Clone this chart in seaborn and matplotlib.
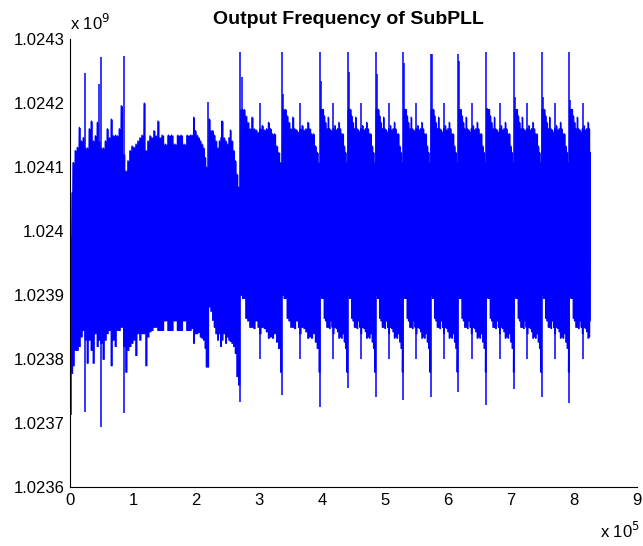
import numpy as np
import pandas as pd
import matplotlib
matplotlib.use("Agg")
import matplotlib.pyplot as plt
import seaborn as sns

# x in units of 1e5 samples, frequency in units of 1e9 Hz

# start-up section (before the flat part)
early_t = [0.008, 0.029, 0.049, 0.081, 0.113, 0.145, 0.176, 0.208, 0.240, 0.272, 0.303, 0.335,
           0.367, 0.399, 0.431, 0.462, 0.489, 0.526, 0.558, 0.589, 0.621, 0.653, 0.685, 0.717,
           0.748, 0.780, 0.812, 0.850, 0.887, 0.918, 0.950, 0.982, 1.014, 1.045, 1.077, 1.109,
           1.141, 1.177, 1.204, 1.236, 1.268, 1.300, 1.331, 1.363, 1.395, 1.427]
early_hi = [1.02399, 1.02406, 1.024107, 1.024126, 1.024131, 1.024162, 1.024141, 1.024146, 1.02413,
            1.02413, 1.02416, 1.024172, 1.024141, 1.024149, 1.02417, 1.02414, 1.02413, 1.02413,
            1.024141, 1.02416, 1.024146, 1.024175, 1.024149, 1.02415, 1.024149, 1.02416, 1.024196,
            1.02412, 1.024094, 1.02411, 1.024126, 1.024133, 1.024131, 1.024136, 1.024141, 1.024146,
            1.02415, 1.0242, 1.024126, 1.024141, 1.024149, 1.024146, 1.024157, 1.024149, 1.024172,
            1.024146]
early_lo = [1.02378, 1.023778, 1.02379, 1.023814, 1.023814, 1.02382, 1.023835, 1.023845, 1.02383,
            1.023794, 1.02383, 1.023814, 1.023794, 1.02384, 1.02382, 1.02383, 1.023825, 1.0238,
            1.02383, 1.02384, 1.023845, 1.02379, 1.02383, 1.02382, 1.023845, 1.023845, 1.02385,
            1.02382, 1.02378, 1.023814, 1.02382, 1.023825, 1.02383, 1.023806, 1.02384, 1.02383,
            1.02384, 1.02384, 1.02379, 1.023835, 1.023843, 1.023845, 1.02385, 1.02385, 1.023845,
            1.023845]

# locked (flat) section
flat_t = [1.46, 1.51, 1.56, 1.61, 1.66, 1.71, 1.76, 1.81, 1.86, 1.91]
flat_hi = [1.02415, 1.024136, 1.02415, 1.02415, 1.024136, 1.02415, 1.02415, 1.024136, 1.02415, 1.02415]
flat_lo = [1.023845, 1.02386, 1.023845, 1.023845, 1.02386, 1.023845, 1.023845, 1.02386, 1.023845, 1.023845]

# section after the flat part, up to the first regular burst
mid_t = [1.935, 1.962, 1.988, 2.015, 2.042, 2.067, 2.094, 2.121, 2.147, 2.162, 2.189, 2.210,
         2.237, 2.264, 2.289, 2.316, 2.344, 2.369, 2.396, 2.412, 2.444, 2.471, 2.496, 2.523,
         2.544, 2.571, 2.598, 2.623, 2.650, 2.677]
mid_hi = [1.02415, 1.024178, 1.024157, 1.02415, 1.024146, 1.024141, 1.024136, 1.02413, 1.024115,
          1.0241, 1.0241, 1.024175, 1.024157, 1.024157, 1.02415, 1.024141, 1.02413, 1.024141,
          1.024146, 1.024172, 1.024146, 1.024141, 1.024136, 1.024146, 1.024158, 1.024141, 1.024126,
          1.02411, 1.024089, 1.024069]
mid_lo = [1.023848, 1.023825, 1.02384, 1.02384, 1.023842, 1.023835, 1.023833, 1.02383, 1.023817,
          1.023788, 1.023788, 1.023882, 1.023875, 1.023861, 1.02385, 1.02384, 1.02383, 1.02384,
          1.02382, 1.02383, 1.02384, 1.023825, 1.023835, 1.02383, 1.023828, 1.023825, 1.02382,
          1.023809, 1.023773, 1.02376]

# single spikes in the early part
spike_x = [0.008, 0.240, 0.462, 0.489, 0.850, 2.189]
spike_lo = [1.023713, 1.023718, 1.02383, 1.023695, 1.023716, 1.023788]
spike_hi = [1.02399, 1.024247, 1.02423, 1.024272, 1.024274, 1.024202]

# regular bursts (each starts with a big jump)
burst_start = [2.703, 3.365, 3.974, 4.409, 4.854, 5.291, 5.728, 6.161, 6.611, 7.056, 7.491, 7.930]
burst_top = [1.02428, 1.02428, 1.02428, 1.02428, 1.02428, 1.02428, 1.024277, 1.024277,
             1.02428, 1.02428, 1.02428, 1.02428]
burst_pre_low = [1.023734, 1.023744, 1.023726, 1.023755, 1.023741, 1.023736, 1.023741, 1.023749,
                 1.023729, 1.023753, 1.023741, 1.023732]
burst_post_top = [1.02424, 1.024214, 1.024235, 1.024248, 1.024246, 1.024263, 1.024277, 1.024266,
                  1.024193, 1.024209, 1.02421, 1.024204]
data_end = 8.259

# envelope of one burst, read from the burst at 5.29e5 (position as fraction of burst length)
tpl_r = [0.0, 0.04, 0.08, 0.12, 0.17, 0.22, 0.27, 0.32, 0.37, 0.42, 0.46, 0.52, 0.57, 0.62,
         0.67, 0.72, 0.77, 0.82, 0.87, 0.92, 0.97]
tpl_hi = [1.02419, 1.02419, 1.02419, 1.02418, 1.02417, 1.02416, 1.024178, 1.02416, 1.024158,
          1.024154, 1.02416, 1.024165, 1.024158, 1.02416, 1.02417, 1.02416, 1.024152, 1.024152,
          1.024133, 1.024123, 1.024107]
tpl_lo = [1.0239, 1.023895, 1.023895, 1.023864, 1.02386, 1.02385, 1.02385, 1.023848, 1.02386,
          1.02385, 1.02384, 1.02385, 1.023848, 1.023843, 1.023833, 1.023835, 1.023833, 1.02384,
          1.023827, 1.023817, 1.02378]
sec_r = 0.48
sec_hi = 1.0242
sec_lo = 1.0238

# ---- assemble envelope ----
t_all = list(early_t) + list(flat_t) + list(mid_t)
hi_all = list(early_hi) + list(flat_hi) + list(mid_hi)
lo_all = list(early_lo) + list(flat_lo) + list(mid_lo)

starts = np.array(burst_start)
ends = np.append(starts[1:], data_end)
lengths = ends - starts
lengths[-1] = np.median(lengths[3:-1])
for s, e, L in zip(starts, ends, lengths):
    for r, h, l in zip(tpl_r, tpl_hi, tpl_lo):
        t = s + 0.01 + r * (L - 0.01)
        if t <= e:
            t_all.append(t)
            hi_all.append(h)
            lo_all.append(l)
t_all.append(data_end)
hi_all.append(1.024123)
lo_all.append(1.02386)

env = pd.DataFrame({"t": t_all, "hi": hi_all, "lo": lo_all}).sort_values("t")

# zig-zag trace through the envelope
zz_x = np.repeat(env["t"].values, 2)
zz_y = np.column_stack([env["hi"].values, env["lo"].values]).ravel()
trace = pd.DataFrame({"x": zz_x, "y": zz_y})

# vertical jumps
vx = list(spike_x)
vlo = list(spike_lo)
vhi = list(spike_hi)
for s, L, top, low, post in zip(starts, lengths, burst_top, burst_pre_low, burst_post_top):
    vx += [s, s + 0.03 * L, s + sec_r * L]
    vlo += [low, 1.0239, sec_lo]
    vhi += [top, post, sec_hi]

# ---- plot ----
sns.set_theme(style="white")
plt.rcParams["font.family"] = ["Liberation Sans", "DejaVu Sans"]
plt.rcParams["text.color"] = "black"

fig = plt.figure(figsize=(6.43, 5.46), dpi=100)
ax = fig.add_axes([0.1092, 0.1073, 0.8810, 0.8213])

blue = "#0000ff"
ax.fill_between(env["t"], env["lo"], env["hi"], step="mid", color=blue, lw=0)
sns.lineplot(data=trace, x="x", y="y", sort=False, estimator=None, color=blue, lw=0.9, ax=ax)
ax.vlines(vx, vlo, vhi, color=blue, lw=1.1)

ax.set_xlim(0, 9)
ax.set_ylim(1.0236, 1.0243)
ax.set_xticks(range(10))
ax.set_xticklabels([str(i) for i in range(10)])
yt = np.round(np.arange(1.0236, 1.02431, 0.0001), 4)
ax.set_yticks(yt)
ax.set_yticklabels([f"{v:.5g}" for v in yt])
ax.set_xlabel("")
ax.set_ylabel("")

sns.despine(ax=ax)
for side in ["left", "bottom"]:
    ax.spines[side].set_color("black")
    ax.spines[side].set_linewidth(0.8)
ax.tick_params(direction="in", length=4, width=0.8, colors="black", labelsize=12, pad=4)

fig.text(348 / 643, 1 - 20 / 546, "Output Frequency of SubPLL", ha="center", va="center",
         fontsize=14, fontweight="bold", color="black")
fig.text(70 / 643, 1 - 30 / 546, r"x 10$^{9}$", ha="left", va="baseline", fontsize=12, color="black")
fig.text(600 / 643, 1 - 538 / 546, r"x 10$^{5}$", ha="left", va="baseline", fontsize=12, color="black")

fig.savefig("out.png", dpi=100)
